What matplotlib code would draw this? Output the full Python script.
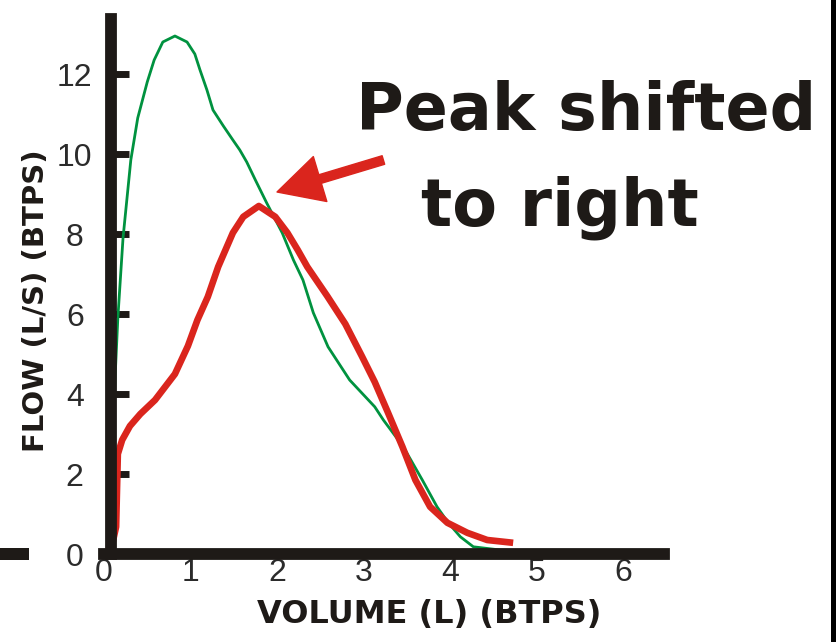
import matplotlib
matplotlib.use("Agg")
import matplotlib.pyplot as plt
from matplotlib.patches import Rectangle

# normal loop (green)
normal_vol = [0.07, 0.10, 0.13, 0.16, 0.22, 0.31, 0.39, 0.50, 0.58, 0.68, 0.82,
              0.96, 1.05, 1.11, 1.19, 1.26, 1.38, 1.49, 1.57, 1.65, 1.75, 1.88,
              2.06, 2.19, 2.30, 2.42, 2.59, 2.84, 3.13, 3.23, 3.46, 3.68, 3.85,
              3.98, 4.12, 4.27, 4.58, 4.77]
normal_flow = [0.0, 2.5, 4.5, 5.9, 7.9, 9.85, 10.9, 11.8, 12.35, 12.8, 12.95,
               12.8, 12.5, 12.1, 11.6, 11.1, 10.7, 10.35, 10.1, 9.8, 9.35, 8.78,
               8.03, 7.35, 6.85, 6.03, 5.18, 4.35, 3.68, 3.35, 2.68, 1.85, 1.18,
               0.78, 0.43, 0.18, 0.1, 0.08]

# shifted loop (red)
shifted_vol = [0.07, 0.14, 0.16, 0.21, 0.30, 0.42, 0.59, 0.82, 0.97, 1.08, 1.20,
               1.32, 1.49, 1.61, 1.79, 1.98, 2.12, 2.24, 2.35, 2.58, 2.79, 2.98,
               3.13, 3.28, 3.45, 3.60, 3.77, 3.97, 4.20, 4.43, 4.73]
shifted_flow = [0.0, 0.68, 2.5, 2.85, 3.2, 3.5, 3.85, 4.5, 5.2, 5.85, 6.43,
                7.18, 8.03, 8.43, 8.7, 8.43, 8.03, 7.6, 7.18, 6.45, 5.75, 4.95,
                4.3, 3.55, 2.68, 1.85, 1.18, 0.78, 0.53, 0.35, 0.28]

x_ticks = [0, 1, 2, 3, 4, 5, 6]
y_ticks = [0, 2, 4, 6, 8, 10, 12]

BLACK = '#1e1a17'
GREEN = '#00923f'
RED = '#da251d'

fig = plt.figure(figsize=(8.36, 6.42), dpi=100)
ax = fig.add_axes([104 / 836, (642 - 554) / 642, 560 / 836, 535 / 642])

ax.plot(normal_vol, normal_flow, color=GREEN, lw=2.0, solid_joinstyle='round')
ax.plot(shifted_vol, shifted_flow, color=RED, lw=4.8, solid_joinstyle='round',
        solid_capstyle='butt')

ax.set_xlim(0, 560 / 86.5)
ax.set_ylim(0, 535 / 40)

for side in ['top', 'right']:
    ax.spines[side].set_visible(False)
for side in ['left', 'bottom']:
    ax.spines[side].set_linewidth(8.5)
    ax.spines[side].set_color(BLACK)
    ax.spines[side].set_capstyle('projecting')
ax.spines['left'].set_position(('data', 0.08))

ax.set_xticks(x_ticks)
ax.set_yticks(y_ticks)
ax.tick_params(axis='x', length=0, pad=3, labelsize=23, labelcolor='#2b2b2b')
ax.tick_params(axis='y', direction='in', length=13, width=5, color=BLACK,
               pad=26, labelsize=23, labelcolor='#2b2b2b')
for t in ax.get_xticklabels() + ax.get_yticklabels():
    t.set_family('Liberation Sans')
for t in ax.get_yticklabels():
    t.set_ha('center')

ax.set_xlabel('VOLUME (L) (BTPS)', fontsize=23, fontweight='bold', color=BLACK,
              va='center')
ax.xaxis.set_label_coords(325 / 560, -61 / 535)
ax.set_ylabel('FLOW (L/S) (BTPS)', fontsize=21, fontweight='bold', color=BLACK,
              va='center')
ax.yaxis.set_label_coords(-68 / 560, 253 / 535)

# annotation
ax.text(5.57, 10.6, 'Peak shifted', fontsize=47, fontweight='bold', color=BLACK,
        ha='center', va='baseline', clip_on=False)
ax.text(5.27, 8.2, 'to right', fontsize=47, fontweight='bold', color=BLACK,
        ha='center', va='baseline', clip_on=False)
ax.annotate('', xy=(2.0, 9.05), xytext=(3.23, 9.85),
            arrowprops=dict(arrowstyle='simple,head_length=1.62,head_width=1.69,tail_width=0.32',
                            color=RED, mutation_scale=20, shrinkA=0, shrinkB=0))

# bits of the neighbouring panel / frame
fig.add_artist(Rectangle((831 / 836, 0), 5 / 836, 1, transform=fig.transFigure,
                         color='black', lw=0))
fig.add_artist(Rectangle((0, (642 - 560) / 642), 29 / 836, 12 / 642,
                         transform=fig.transFigure, color=BLACK, lw=0))

fig.savefig('out.png', dpi=100)
